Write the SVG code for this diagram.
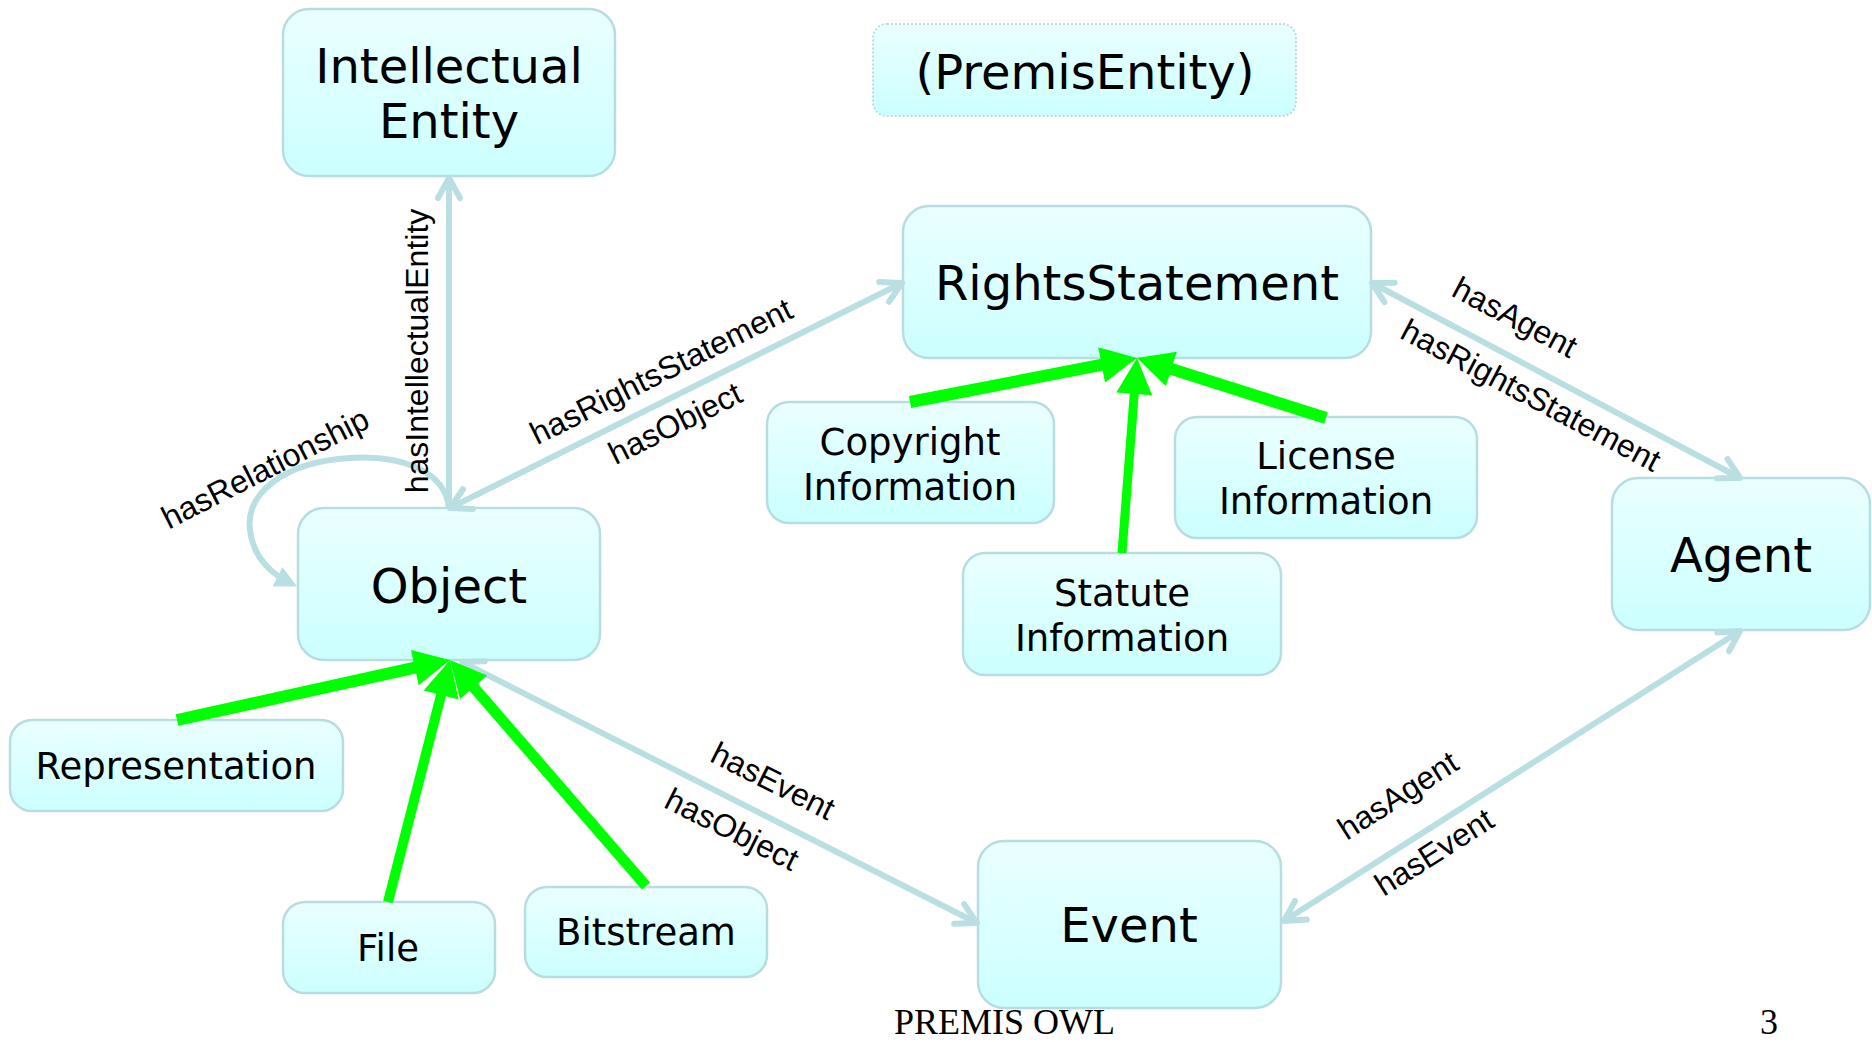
<svg xmlns="http://www.w3.org/2000/svg" width="1872" height="1042" viewBox="0 0 1872 1042">
<style>
.box{fill:url(#bg);stroke:#b7dde1;stroke-width:2.5}
.dot{fill:url(#bg);stroke:#b7dde1;stroke-width:2;stroke-dasharray:2 2}
.big{font-family:"DejaVu Sans",Verdana,sans-serif;font-size:48px;fill:#000;text-anchor:middle}
.sm{font-family:"DejaVu Sans",Verdana,sans-serif;font-size:37px;fill:#000;text-anchor:middle}
.lab{font-family:"Liberation Sans",Arial,sans-serif;font-size:32px;fill:#000;text-anchor:middle}
.con{fill:none;stroke:#badfe3;stroke-width:6}
.gen{fill:none;stroke:#00ff00}
.foot{font-family:"Liberation Serif","Times New Roman",serif;font-size:36px;fill:#000}
</style>
<defs>
<linearGradient id="bg" x1="0" y1="0" x2="0" y2="1">
<stop offset="0" stop-color="#ebffff"/>
<stop offset="1" stop-color="#ccffff"/>
</linearGradient>
<marker id="oa" markerUnits="userSpaceOnUse" orient="auto-start-reverse" overflow="visible" markerWidth="1" markerHeight="1" refX="0" refY="0">
<path d="M-20,-11 L0,0 L-20,11" fill="none" stroke="#badfe3" stroke-width="6" stroke-linecap="round" stroke-linejoin="round"/>
</marker>
<marker id="fa" markerUnits="userSpaceOnUse" orient="auto" overflow="visible" markerWidth="1" markerHeight="1" refX="0" refY="0">
<path d="M-14,-11 L8,0 L-14,11 Z" fill="#badfe3"/>
</marker>
<marker id="ga" markerUnits="userSpaceOnUse" orient="auto" overflow="visible" markerWidth="1" markerHeight="1" refX="0" refY="0">
<path d="M-6,-18 L30,0 L-6,18 Z" fill="#00ff00"/>
</marker>
</defs>
<rect width="1872" height="1042" fill="#ffffff"/>

<g id="intellectual-entity"><rect class="box" x="283" y="9" width="332" height="167" rx="26"/><text class="big" x="449" y="83">Intellectual</text><text class="big" x="449" y="138">Entity</text></g>
<g id="premis-entity"><rect class="dot" x="873" y="24" width="423" height="92" rx="14"/><text class="big" x="1085" y="89">(PremisEntity)</text></g>
<g id="rights-statement"><rect class="box" x="903" y="206" width="468" height="152" rx="26"/><text class="big" x="1137" y="300">RightsStatement</text></g>
<g id="object"><rect class="box" x="298" y="508" width="302" height="152" rx="26"/><text class="big" x="449" y="603">Object</text></g>
<g id="copyright-information"><rect class="box" x="767" y="402" width="287" height="121" rx="22"/><text class="sm" x="910" y="455">Copyright</text><text class="sm" x="910" y="500">Information</text></g>
<g id="license-information"><rect class="box" x="1175" y="417" width="302" height="121" rx="22"/><text class="sm" x="1326" y="469">License</text><text class="sm" x="1326" y="514">Information</text></g>
<g id="statute-information"><rect class="box" x="963" y="553" width="318" height="122" rx="22"/><text class="sm" x="1122" y="606">Statute</text><text class="sm" x="1122" y="651">Information</text></g>
<g id="agent"><rect class="box" x="1612" y="478" width="258" height="152" rx="26"/><text class="big" x="1741" y="572">Agent</text></g>
<g id="event"><rect class="box" x="978" y="841" width="303" height="167" rx="26"/><text class="big" x="1129" y="942">Event</text></g>
<g id="representation"><rect class="box" x="10" y="720" width="333" height="91" rx="22"/><text class="sm" x="176" y="779">Representation</text></g>
<g id="file"><rect class="box" x="283" y="902" width="212" height="91" rx="22"/><text class="sm" x="388" y="961">File</text></g>
<g id="bitstream"><rect class="box" x="525" y="887" width="242" height="90" rx="22"/><text class="sm" x="646" y="945">Bitstream</text></g>

<g id="connectors">
<path class="con" d="M449,508 L449,178" marker-end="url(#oa)"/>
<path class="con" d="M449,508 C445,470 400,455 350,458 C282,462 245,495 250,530 C253,555 268,572 290,583" marker-end="url(#fa)"/>
<path class="con" d="M450,508 L902,283" marker-start="url(#oa)" marker-end="url(#oa)"/>
<path class="con" d="M1372,283 L1740,478" marker-start="url(#oa)" marker-end="url(#oa)"/>
<path class="con" d="M462,662 L977,923" marker-start="url(#oa)" marker-end="url(#oa)"/>
<path class="con" d="M1284,921 L1740,631" marker-start="url(#oa)" marker-end="url(#oa)"/>

<path class="gen" stroke-width="12" d="M910,402 L1107.5,363.7" marker-end="url(#ga)"/>
<path class="gen" stroke-width="9" d="M1122,553 L1134.7,387.9" marker-end="url(#ga)"/>
<path class="gen" stroke-width="12" d="M1326,418 L1165.6,367.1" marker-end="url(#ga)"/>
<path class="gen" stroke-width="12" d="M177,720 L420.7,666.4" marker-end="url(#ga)"/>
<path class="gen" stroke-width="10" d="M388,902 L442.6,689.1" marker-end="url(#ga)"/>
<path class="gen" stroke-width="11" d="M646,886 L469.7,682.7" marker-end="url(#ga)"/>

<text class="lab" transform="translate(266,470) rotate(-27)" y="9">hasRelationship</text>
<text class="lab" transform="translate(417,351) rotate(-90)" y="11">hasIntellectualEntity</text>
<text class="lab" transform="translate(662,373) rotate(-26.5)" y="9">hasRightsStatement</text>
<text class="lab" transform="translate(676,425) rotate(-26.5)" y="9">hasObject</text>
<text class="lab" transform="translate(1514,319) rotate(27.9)" y="9">hasAgent</text>
<text class="lab" transform="translate(1530,397) rotate(27.9)" y="9">hasRightsStatement</text>
<text class="lab" transform="translate(773,781) rotate(26.7)" y="11">hasEvent</text>
<text class="lab" transform="translate(731,831) rotate(26.7)" y="9">hasObject</text>
<text class="lab" transform="translate(1399,797) rotate(-32.5)" y="9">hasAgent</text>
<text class="lab" transform="translate(1434,852) rotate(-32.5)" y="11">hasEvent</text>
</g>

<text class="foot" x="894" y="1034">PREMIS OWL</text>
<text class="foot" x="1760" y="1034">3</text>
</svg>
